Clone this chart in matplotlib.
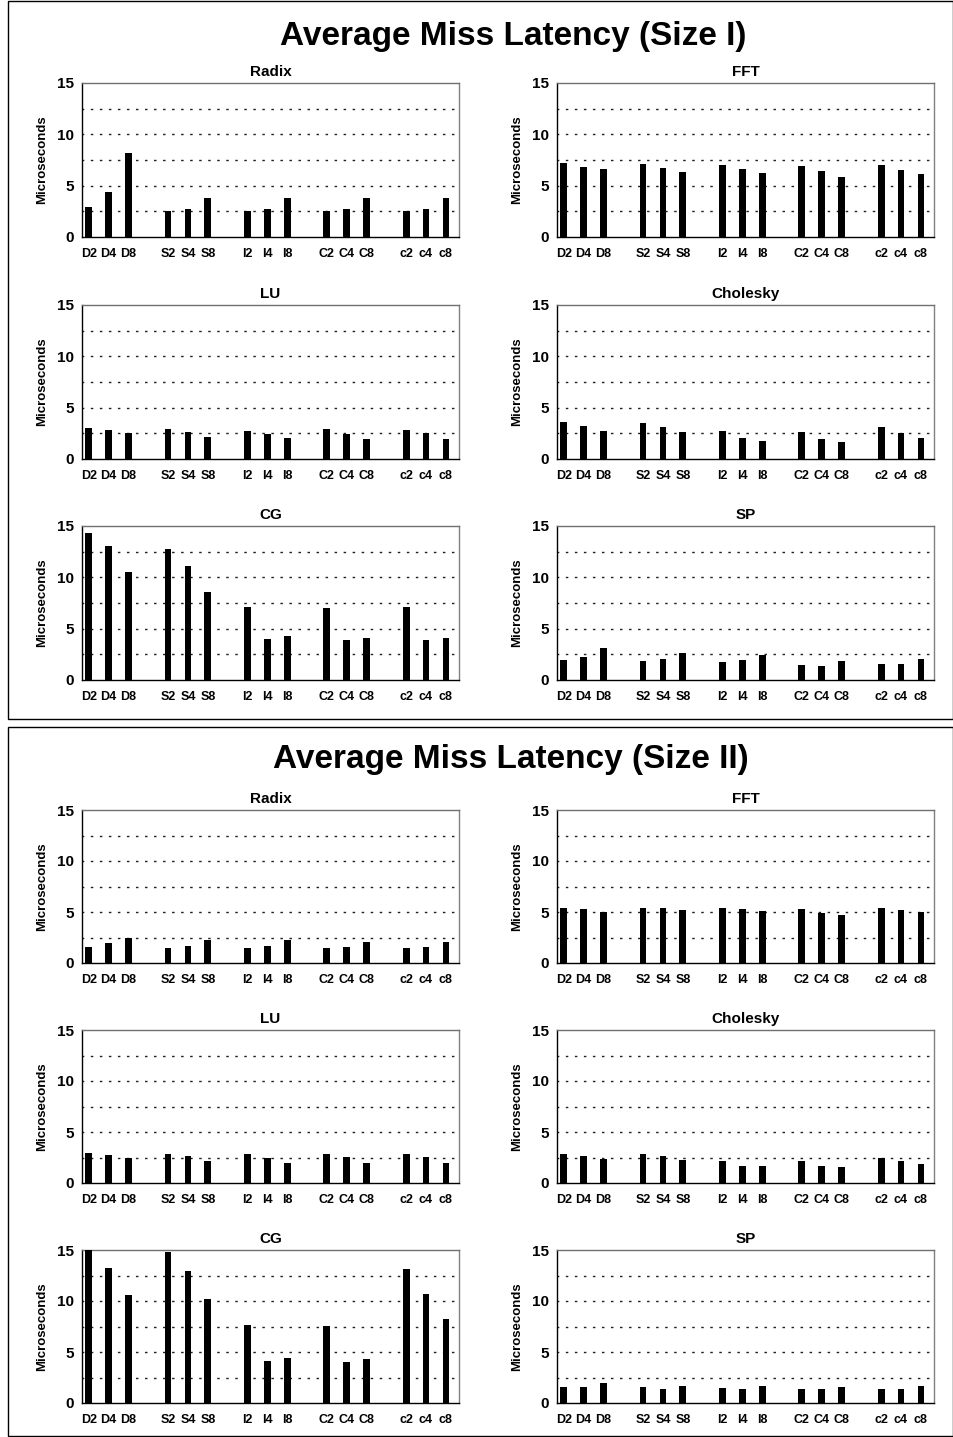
import matplotlib
matplotlib.use("Agg")
import matplotlib.pyplot as plt
from matplotlib.patches import Rectangle

plt.rcParams['font.family'] = ['Liberation Sans', 'DejaVu Sans']
plt.rcParams['font.weight'] = 'bold'

# Configurations along the x axis (five protocols x three processor counts)
labels = ["D2", "D4", "D8", "S2", "S4", "S8", "I2", "I4", "I8",
          "C2", "C4", "C8", "c2", "c4", "c8"]
positions = [0, 1, 2, 4, 5, 6, 8, 9, 10, 12, 13, 14, 16, 17, 18]
apps = ["Radix", "FFT", "LU", "Cholesky", "CG", "SP"]

# Average miss latency in microseconds, problem size I
radix_1 = [2.92, 4.38, 8.18, 2.50, 2.76, 3.83, 2.50, 2.76, 3.83, 2.50, 2.76, 3.80, 2.50, 2.76, 3.80]
fft_1 = [7.18, 6.82, 6.66, 7.08, 6.72, 6.36, 7.01, 6.66, 6.23, 6.92, 6.40, 5.81, 7.01, 6.56, 6.10]
lu_1 = [2.99, 2.80, 2.57, 2.93, 2.64, 2.18, 2.77, 2.44, 2.05, 2.90, 2.47, 1.99, 2.86, 2.54, 1.99]
cholesky_1 = [3.58, 3.25, 2.77, 3.51, 3.12, 2.60, 2.70, 2.05, 1.76, 2.60, 1.95, 1.69, 3.09, 2.54, 2.08]
cg_1 = [14.32, 13.02, 10.55, 12.79, 11.10, 8.57, 7.11, 3.96, 4.25, 7.01, 3.86, 4.12, 7.11, 3.93, 4.06]
sp_1 = [1.98, 2.27, 3.15, 1.88, 2.01, 2.60, 1.72, 1.95, 2.47, 1.46, 1.40, 1.88, 1.53, 1.59, 2.08]

# Average miss latency in microseconds, problem size II
radix_2 = [1.60, 1.97, 2.42, 1.51, 1.67, 2.26, 1.51, 1.67, 2.26, 1.51, 1.60, 2.06, 1.51, 1.60, 2.10]
fft_2 = [5.44, 5.31, 5.04, 5.44, 5.37, 5.24, 5.44, 5.34, 5.14, 5.27, 4.95, 4.68, 5.37, 5.21, 5.01]
lu_2 = [2.98, 2.75, 2.49, 2.88, 2.62, 2.19, 2.82, 2.46, 2.00, 2.88, 2.52, 2.00, 2.85, 2.55, 1.97]
cholesky_2 = [2.88, 2.65, 2.33, 2.88, 2.62, 2.26, 2.13, 1.70, 1.64, 2.13, 1.67, 1.57, 2.49, 2.13, 1.87]
cg_2 = [15.4, 13.20, 10.61, 14.80, 12.94, 10.15, 7.60, 4.09, 4.45, 7.53, 4.03, 4.29, 13.17, 10.71, 8.22]
sp_2 = [1.54, 1.57, 1.97, 1.54, 1.41, 1.67, 1.51, 1.38, 1.67, 1.38, 1.34, 1.57, 1.41, 1.41, 1.67]

size_1 = [radix_1, fft_1, lu_1, cholesky_1, cg_1, sp_1]
size_2 = [radix_2, fft_2, lu_2, cholesky_2, cg_2, sp_2]

W, H = 954, 1437
fig = plt.figure(figsize=(W / 100, H / 100), dpi=100)


def rect(x0, y0, x1, y1):
    return [x0 / W, 1 - y1 / H, (x1 - x0) / W, (y1 - y0) / H]


def draw_panel(x0, y0, x1, y1, title, values):
    ax = fig.add_axes(rect(x0, y0, x1, y1))
    ax.bar(positions, values, width=0.34, color="black", zorder=3)
    ax.set_xlim(-0.34, 18.66)
    ax.set_ylim(0, 15)
    ax.set_yticks([0, 5, 10, 15])
    ax.set_xticks(positions)
    ax.set_xticklabels(labels, fontsize=9, fontweight="bold")
    for t in ax.get_yticklabels():
        t.set_fontsize(11)
        t.set_fontweight("bold")
    ax.tick_params(axis="both", which="both", length=0)
    ax.tick_params(axis="x", pad=8)
    ax.tick_params(axis="y", pad=6)
    for yv in [2.5, 5, 7.5, 10, 12.5]:
        ax.axhline(yv, color="#202020", linewidth=1.0,
                   linestyle=(-6.0, (1.8, 4.7)), zorder=1)
    ax.spines["left"].set_color("black")
    ax.spines["bottom"].set_color("black")
    ax.spines["top"].set_color("#707070")
    ax.spines["right"].set_color("#808080")
    for s in ax.spines.values():
        s.set_linewidth(1.0)
    ax.set_title(title, fontsize=11, fontweight="bold", pad=5)
    ax.set_ylabel("Microseconds", fontsize=9.5, fontweight="bold", labelpad=6)
    return ax


cols = [(82, 459), (557, 934)]
rows_1 = [(83, 237), (305, 459), (526, 680)]
rows_2 = [(810, 963), (1030, 1183), (1250, 1403)]

for block_rows, data in [(rows_1, size_1), (rows_2, size_2)]:
    for i, (name, vals) in enumerate(zip(apps, data)):
        r, c = divmod(i, 2)
        (ya, yb), (xa, xb) = block_rows[r], cols[c]
        draw_panel(xa, ya, xb, yb, name, vals)

# Frames around each problem-size block
for (bx0, by0, bx1, by1) in [(8, 1, 953, 719), (8, 727, 953, 1436)]:
    fig.patches.append(Rectangle((bx0 / W, 1 - by1 / H), (bx1 - bx0) / W, (by1 - by0) / H,
                                 transform=fig.transFigure, fill=False,
                                 edgecolor="black", linewidth=1.0))

fig.text(513 / W, 1 - 37 / H, "Average Miss Latency (Size I)", ha="center", va="center",
         fontsize=24, fontweight="bold")
fig.text(511 / W, 1 - 760 / H, "Average Miss Latency (Size II)", ha="center", va="center",
         fontsize=24, fontweight="bold")

fig.savefig("out.png", dpi=100)
